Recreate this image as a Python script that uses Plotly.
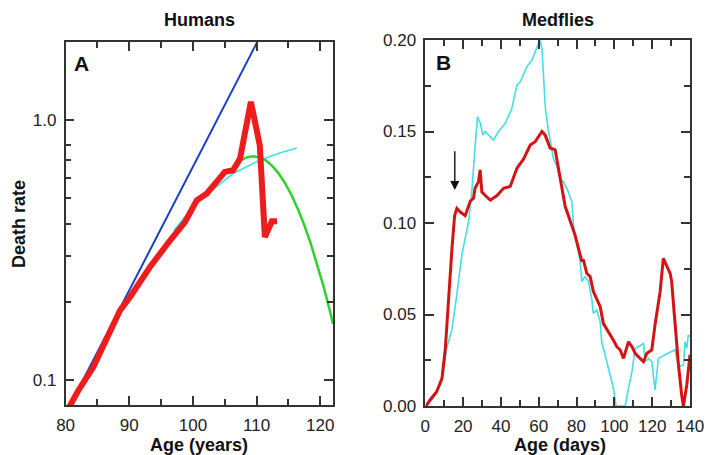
import math
import plotly.graph_objects as go

# ---------------- Panel A: Humans ----------------
human_red_age = [80.5, 82.0, 84.35, 86.0, 88.54, 90.1, 93.25, 96.4, 98.75, 100.6, 102.15, 104.0,
                 105.0, 106.3, 107.4, 109.1, 110.5, 111.3, 112.4, 113.2]
human_red_rate = [0.078, 0.091, 0.112, 0.138, 0.185, 0.208, 0.272, 0.344, 0.405, 0.491, 0.521, 0.59,
                  0.632, 0.641, 0.711, 1.177, 0.80, 0.355, 0.408, 0.408]

human_blue_age = [80.0, 110.1]
human_blue_rate = [0.074, 2.0]

human_cyan_age = [97.0, 100.0, 102.0, 103.7, 106.3, 108.5, 110.5, 113.5, 116.3]
human_cyan_rate = [0.375, 0.465, 0.515, 0.553, 0.623, 0.665, 0.701, 0.745, 0.782]

human_green_age = [106.45, 107.45, 108.45, 109.45, 110.45, 111.45, 112.45, 113.45, 114.45,
                   115.45, 116.45, 117.45, 118.45, 119.45, 120.45, 121.45, 122.0]
human_green_rate = [0.667, 0.700, 0.719, 0.726, 0.719, 0.700, 0.667, 0.624, 0.573,
                    0.516, 0.457, 0.397, 0.338, 0.282, 0.232, 0.187, 0.164]

human_x_ticks = [80, 90, 100, 110, 120]
human_y_ticks = [0.1, 1.0]
human_y_ticktext = ["0.1", "1.0"]
human_y_minor = [0.2, 0.3, 0.4, 0.5, 0.6, 0.7, 0.8]

# ---------------- Panel B: Medflies ----------------
fly_red_day = [0.4, 2.5, 6.0, 8.8, 10.6, 12.3, 14.1, 15.5, 16.7, 18.5, 21.1, 23.8, 25.5, 26.3, 28.1,
               29.0, 29.9, 31.7, 34.4, 37.9, 41.4, 44.9, 48.5, 52.0, 55.5, 58.1, 60.0, 61.7, 63.4,
               66.0, 68.7, 69.6, 71.3, 72.2, 74.0, 75.7, 79.2, 82.8, 83.6, 85.4, 87.2, 88.9, 91.6,
               92.5, 94.2, 96.9, 99.5, 101.3, 103.1, 104.8, 107.5, 109.3, 111.0, 113.6, 115.4,
               117.2, 119.8, 121.5, 124.2, 125.9, 127.7, 129.5, 130.3, 132.1, 133.9, 135.6, 136.5,
               138.3, 140.0]
fly_red_rate = [0.0, 0.0033, 0.0078, 0.015, 0.0315, 0.059, 0.086, 0.104, 0.108, 0.106, 0.104, 0.112,
                0.1135, 0.119, 0.1225, 0.129, 0.117, 0.115, 0.1125, 0.115, 0.119, 0.12, 0.13, 0.135,
                0.1426, 0.1444, 0.147, 0.150, 0.148, 0.141, 0.140, 0.135, 0.126, 0.119, 0.109,
                0.104, 0.0934, 0.079, 0.080, 0.0725, 0.0707, 0.0625, 0.056, 0.0543, 0.045, 0.0406,
                0.036, 0.0324, 0.0306, 0.026, 0.0351, 0.0324, 0.0288, 0.026, 0.0242, 0.0288, 0.0306,
                0.0443, 0.0625, 0.0807, 0.077, 0.0725, 0.068, 0.0425, 0.0224, 0.006, 0.0, 0.0115,
                0.028]

fly_cyan_day = [0.4, 4.0, 7.8, 9.5, 11.3, 14.1, 16.7, 19.4, 22.9, 24.6, 26.4, 27.6, 29.1, 30.5, 31.7,
                34.4, 36.1, 38.7, 42.3, 45.8, 48.5, 50.2, 53.7, 56.4, 59.0, 60.6, 61.7, 63.5, 65.2,
                66.0, 67.8, 69.6, 71.3, 73.1, 75.7, 76.6, 77.5, 78.4, 80.2, 81.9, 82.8, 84.5, 86.3,
                88.0, 88.9, 90.7, 92.5, 93.3, 96.0, 97.7, 99.5, 100.9, 105.7, 107.5, 109.3, 111.0,
                112.8, 115.4, 116.3, 118.1, 119.8, 121.5, 123.3, 126.8, 132.1, 133.9, 136.5, 137.4,
                138.3, 139.1, 140.0]
fly_cyan_rate = [0.0, 0.004, 0.0115, 0.018, 0.0315, 0.042, 0.061, 0.083, 0.1007, 0.117, 0.1426, 0.158,
                 0.1545, 0.148, 0.150, 0.147, 0.1453, 0.150, 0.1545, 0.1627, 0.1754, 0.177, 0.1854,
                 0.189, 0.1954, 0.2, 0.1954, 0.1627, 0.150, 0.1453, 0.135, 0.131, 0.124, 0.1225,
                 0.117, 0.114, 0.1116, 0.0985, 0.088, 0.079, 0.068, 0.0707, 0.068, 0.0588, 0.0506,
                 0.0525, 0.046, 0.0351, 0.0242, 0.017, 0.0097, 0.0, 0.0, 0.0097, 0.0188, 0.0315,
                 0.0324, 0.0342, 0.0242, 0.026, 0.0242, 0.0087, 0.026, 0.028, 0.0306, 0.0215, 0.0224,
                 0.0351, 0.0315, 0.0388, 0.038]

fly_x_ticks = [0, 20, 40, 60, 80, 100, 120, 140]
fly_y_ticks = [0.0, 0.05, 0.10, 0.15, 0.20]
fly_y_ticktext = ["0.00", "0.05", "0.10", "0.15", "0.20"]

arrow_day = 15.6
arrow_tip = 0.118
arrow_tail = 0.140

# ---------------- Styling ----------------
FONT = "Liberation Sans, Arial, Helvetica, sans-serif"
AXC = "#333333"
W, H = 709, 455


def px_x(p):
    return p / W


def px_y(p):
    return 1 - p / H


fig = go.Figure()

fig.add_trace(go.Scatter(x=human_blue_age, y=human_blue_rate, mode="lines",
                         line=dict(color="#1c3fc4", width=2), xaxis="x", yaxis="y", showlegend=False))
fig.add_trace(go.Scatter(x=human_cyan_age, y=human_cyan_rate, mode="lines",
                         line=dict(color="#3fe0ea", width=1.6), xaxis="x", yaxis="y", showlegend=False))
fig.add_trace(go.Scatter(x=human_green_age, y=human_green_rate, mode="lines",
                         line=dict(color="#2fd12f", width=2.5), xaxis="x", yaxis="y", showlegend=False))
fig.add_trace(go.Scatter(x=human_red_age, y=human_red_rate, mode="lines",
                         line=dict(color="#ee1c1c", width=6), xaxis="x", yaxis="y", showlegend=False))

fig.add_trace(go.Scatter(x=fly_cyan_day, y=fly_cyan_rate, mode="lines",
                         line=dict(color="#45dde6", width=1.6), xaxis="x2", yaxis="y2", showlegend=False))
fig.add_trace(go.Scatter(x=fly_red_day, y=fly_red_rate, mode="lines",
                         line=dict(color="#d41414", width=3), xaxis="x2", yaxis="y2", showlegend=False))

common = dict(showline=True, linecolor=AXC, linewidth=1.6, mirror="ticks", ticks="inside",
              ticklen=9, tickwidth=1.6, tickcolor=AXC, showgrid=False, zeroline=False,
              automargin=False, layer="above traces", ticklabelstandoff=4,
              tickfont=dict(family=FONT, size=17, color="#222222"))
minor = dict(ticks="inside", ticklen=6, tickwidth=1.6, tickcolor=AXC, showgrid=False)

ax_dom = [px_x(65.6), px_x(333)]
ay_dom = [px_y(405), px_y(42)]
bx_dom = [px_x(425.3), px_x(690)]
by_dom = [px_y(406), px_y(40)]

fig.update_layout(
    template="none",
    width=W, height=H,
    margin=dict(l=0, r=0, t=0, b=0, pad=0, autoexpand=False),
    paper_bgcolor="white", plot_bgcolor="white",
    xaxis=dict(domain=ax_dom, range=[80, 122], anchor="y", tickmode="array", tickvals=human_x_ticks,
               minor=dict(dtick=5, tick0=80, **minor), **common),
    yaxis=dict(domain=ay_dom, type="log", range=[math.log10(0.08), math.log10(2.0)], anchor="x",
               tickmode="array", tickvals=human_y_ticks, ticktext=human_y_ticktext,
               minor=dict(tickmode="array", tickvals=human_y_minor, **minor), **common),
    xaxis2=dict(domain=bx_dom, range=[0, 140], anchor="y2", tickmode="array", tickvals=fly_x_ticks,
                minor=dict(dtick=10, tick0=0, **minor), **common),
    yaxis2=dict(domain=by_dom, range=[0, 0.2], anchor="x2", tickmode="array", tickvals=fly_y_ticks,
                ticktext=fly_y_ticktext, minor=dict(dtick=0.025, tick0=0, **minor), **common),
)

ann = []
ann.append(dict(text="<b>Humans</b>", x=px_x(199.5), y=px_y(20), xref="paper", yref="paper",
                showarrow=False, xanchor="center", yanchor="middle",
                font=dict(family=FONT, size=18, color="#111")))
ann.append(dict(text="<b>Medflies</b>", x=px_x(558), y=px_y(20), xref="paper", yref="paper",
                showarrow=False, xanchor="center", yanchor="middle",
                font=dict(family=FONT, size=18, color="#111")))
ann.append(dict(text="<b>Age (years)</b>", x=px_x(199), y=px_y(445), xref="paper", yref="paper",
                showarrow=False, xanchor="center", yanchor="middle",
                font=dict(family=FONT, size=18, color="#111")))
ann.append(dict(text="<b>Age (days)</b>", x=px_x(560), y=px_y(445), xref="paper", yref="paper",
                showarrow=False, xanchor="center", yanchor="middle",
                font=dict(family=FONT, size=18, color="#111")))
ann.append(dict(text="<b>Death rate</b>", x=px_x(19), y=px_y(224), xref="paper", yref="paper",
                showarrow=False, xanchor="center", yanchor="middle", textangle=-90,
                font=dict(family=FONT, size=18, color="#111")))
ann.append(dict(text="<b>A</b>", x=px_x(72), y=px_y(64), xref="paper", yref="paper",
                showarrow=False, xanchor="left", yanchor="middle",
                font=dict(family=FONT, size=21, color="#111")))
ann.append(dict(text="<b>B</b>", x=px_x(434), y=px_y(63), xref="paper", yref="paper",
                showarrow=False, xanchor="left", yanchor="middle",
                font=dict(family=FONT, size=21, color="#111")))
ann.append(dict(text="", x=arrow_day, y=arrow_tip, xref="x2", yref="y2",
                ax=arrow_day, ay=arrow_tail, axref="x2", ayref="y2",
                showarrow=True, arrowhead=2, arrowsize=1.3, arrowwidth=1.4, arrowcolor="#111"))
fig.update_layout(annotations=ann)

fig.write_html("out.html", config={"displayModeBar": False},
               post_script="document.body.style.margin='0';document.body.style.padding='0';")
